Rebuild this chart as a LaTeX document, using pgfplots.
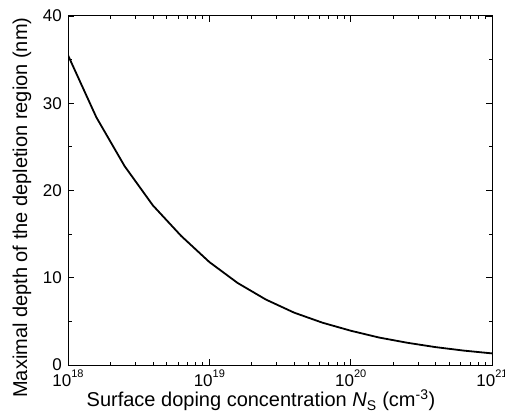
\documentclass[border=0pt]{standalone}
\usepackage{fontspec}
\setmainfont{Liberation Sans}
\usepackage{pgfplots}
\pgfplotsset{compat=1.18}
\newcommand{\tp}[1]{10\raisebox{9pt}{\fontsize{11}{12}\selectfont #1}}
\begin{document}
\begin{tikzpicture}
\path[use as bounding box] (-68pt,-50pt) rectangle (437pt,365pt);
\begin{axis}[
  at={(0,0)}, anchor=south west,
  scale only axis, width=424pt, height=349pt,
  xmode=log, xmin=1e18, xmax=1e21,
  ymin=0, ymax=40,
  xtick={1e18,1e19,1e20,1e21},
  xticklabels={\tp{18},\tp{19},\tp{20},\tp{21}},
  ytick={0,10,20,30,40},
  minor ytick={5,15,25,35},
  tick align=inside,
  major tick length=6pt, minor tick length=3.5pt,
  axis line style={line width=1pt},
  every tick/.style={black, line width=0.9pt},
  /pgf/number format/assume math mode=true,
  tick label style={font=\fontsize{17}{20}\selectfont},
  yticklabel style={anchor=east, inner sep=0pt, xshift=-6pt},
  xticklabel style={anchor=north, inner sep=0pt, yshift=-5pt},
  label style={font=\fontsize{20}{24}\selectfont},
  xlabel={Surface doping concentration \textit{N}\textsubscript{S} (cm\textsuperscript{-3})},
  ylabel={Maximal depth of the depletion region (nm)},
  xlabel style={at={(axis description cs:0.455,-0.1203)}, anchor=base, inner sep=0pt},
  ylabel style={at={(axis description cs:-0.0967,0.451)}, anchor=base, inner sep=0pt},
]
\addplot[black, line width=1.8pt] coordinates {
(1e18,35.5)
(1.585e18,28.4)
(2.512e18,22.8)
(3.981e18,18.3)
(6.310e18,14.8)
(1e19,11.8)
(1.585e19,9.4)
(2.512e19,7.5)
(3.981e19,6.0)
(6.310e19,4.85)
(1e20,3.93)
(1.585e20,3.15)
(2.512e20,2.55)
(3.981e20,2.05)
(6.310e20,1.65)
(1e21,1.33)
};
\end{axis}
\end{tikzpicture}
\end{document}
